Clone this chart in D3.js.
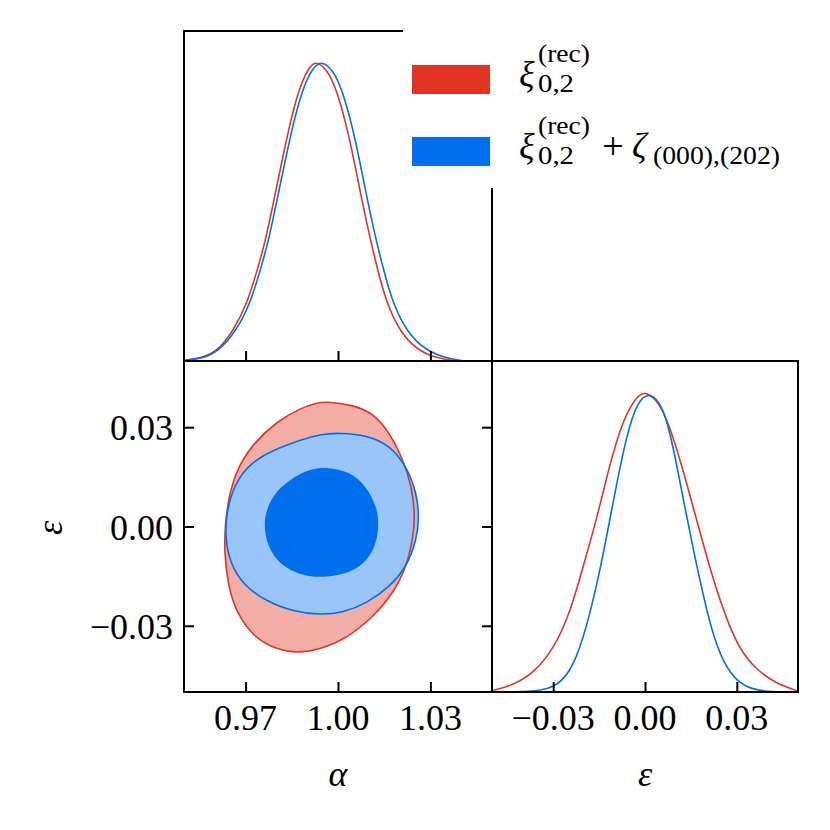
<!DOCTYPE html>
<html><head><meta charset="utf-8">
<script src="https://cdn.jsdelivr.net/npm/d3@7"></script>
<style>
html,body{margin:0;padding:0;background:#fff;}
text{font-family:"Liberation Serif","DejaVu Serif",serif;fill:#000;}
</style></head>
<body><svg id="c" width="830" height="830"></svg>
<script>
// ---------- data ----------
const alphaTicks = [0.97, 1.00, 1.03];
const epsTicks = [-0.03, 0.00, 0.03];
const alphaDomain = [0.95, 1.05];
const epsDomain = [-0.05, 0.05];
const seriesNames = ["rec", "rec+zeta"];

// 1D marginal of alpha (normalised to peak 1)
const alphaRed = [[0.9500,0.002],[0.9554,0.009],[0.9608,0.031],[0.9662,0.103],[0.9705,0.192],[0.9738,0.303],[0.9765,0.403],[0.9792,0.537],[0.9819,0.670],[0.9846,0.803],[0.9879,0.926],[0.9911,0.987],[0.9933,1.000],[0.9974,0.959],[1.0006,0.870],[1.0039,0.737],[1.0071,0.570],[1.0098,0.437],[1.0126,0.314],[1.0158,0.192],[1.0201,0.098],[1.0256,0.037],[1.0320,0.009],[1.0385,0.000]];
const alphaBlue = [[0.9500,0.002],[0.9554,0.008],[0.9608,0.028],[0.9670,0.100],[0.9715,0.192],[0.9748,0.303],[0.9775,0.403],[0.9802,0.537],[0.9829,0.670],[0.9857,0.803],[0.9891,0.926],[0.9925,0.987],[0.9952,1.000],[0.9992,0.959],[1.0024,0.870],[1.0057,0.737],[1.0089,0.570],[1.0116,0.437],[1.0145,0.314],[1.0178,0.192],[1.0223,0.098],[1.0282,0.037],[1.0350,0.009],[1.0410,0.000]];

// 1D marginal of epsilon
const epsRed = [[-0.0500,0.004],[-0.0430,0.023],[-0.0365,0.062],[-0.0300,0.140],[-0.0245,0.262],[-0.0202,0.418],[-0.0158,0.573],[-0.0114,0.762],[-0.0071,0.907],[-0.0027,0.984],[0.0002,1.000],[0.0049,0.962],[0.0092,0.851],[0.0136,0.696],[0.0180,0.529],[0.0223,0.373],[0.0267,0.240],[0.0310,0.140],[0.0365,0.073],[0.0430,0.027],[0.0500,0.003]];
const epsBlue = [[-0.0500,0.000],[-0.0430,0.000],[-0.0360,0.003],[-0.0300,0.012],[-0.0245,0.062],[-0.0202,0.173],[-0.0158,0.351],[-0.0125,0.518],[-0.0092,0.696],[-0.0060,0.851],[-0.0027,0.962],[0.0016,1.000],[0.0060,0.948],[0.0092,0.818],[0.0125,0.640],[0.0158,0.473],[0.0191,0.318],[0.0223,0.184],[0.0267,0.073],[0.0321,0.018],[0.0387,0.000],[0.0500,0.000]];

// 2D contours [alpha, epsilon]
const redOuter = [[0.99685,0.0377],[1.00497,0.0367],[1.01146,0.0342],[1.01688,0.0282],[1.02120,0.0201],[1.02393,0.0120],[1.02500,0.0040],[1.02445,-0.0031],[1.02231,-0.0121],[1.01795,-0.0202],[1.01146,-0.0273],[1.00282,-0.0338],[0.99523,-0.0368],[0.98766,-0.0383],[0.98010,-0.0373],[0.97250,-0.0333],[0.96711,-0.0262],[0.96438,-0.0182],[0.96308,-0.0081],[0.96331,0.0010],[0.96494,0.0110],[0.96763,0.0181],[0.97250,0.0251],[0.98010,0.0317],[0.98766,0.0357],[0.99308,0.0374]];
const blueOuter = [[1.00065,0.0283],[1.00932,0.0276],[1.01688,0.0246],[1.02231,0.0181],[1.02555,0.0100],[1.02640,0.0030],[1.02555,-0.0041],[1.02231,-0.0121],[1.01688,-0.0182],[1.00932,-0.0232],[1.00172,-0.0260],[0.99416,-0.0267],[0.98549,-0.0257],[0.97685,-0.0227],[0.96925,-0.0177],[0.96494,-0.0111],[0.96331,-0.0031],[0.96386,0.0050],[0.96656,0.0131],[0.97143,0.0191],[0.97899,0.0231],[0.98766,0.0261],[0.99416,0.0279]];
const blueInner = [[0.99633,0.0179],[1.00390,0.0166],[1.00932,0.0120],[1.01256,0.0060],[1.01331,0.0010],[1.01256,-0.0051],[1.00932,-0.0106],[1.00390,-0.0141],[0.99523,-0.0156],[0.98766,-0.0147],[0.98117,-0.0116],[0.97705,-0.0061],[0.97575,0.0010],[0.97737,0.0070],[0.98117,0.0120],[0.98766,0.0161],[0.99198,0.0175]];

// ---------- layout ----------
const RED = "#E03424", BLUE = "#006FED";
const RED_L = "#F2ADA7", BLUE_L = "#99C5F8";
const L = 184, M = 492, R = 798, T = 31, MID = 361, B = 692;
const FS = 36, TICK = 10;

const svg = d3.select("#c");
const xA = d3.scaleLinear().domain(alphaDomain).range([L, M]);
const xE = d3.scaleLinear().domain(epsDomain).range([M, R]);
const yE = d3.scaleLinear().domain(epsDomain).range([B, MID]);
const yTop = d3.scaleLinear().domain([0, 1.1]).range([MID, T]);
const yBR = d3.scaleLinear().domain([0, 1.1]).range([B, MID]);
const fmt = v => d3.format(".2f")(v).replace("-", "\u2212");

const defs = svg.append("defs");
defs.append("clipPath").attr("id","cTop").append("rect").attr("x",L).attr("y",T).attr("width",M-L).attr("height",MID-T);
defs.append("clipPath").attr("id","c2d").append("rect").attr("x",L).attr("y",MID).attr("width",M-L).attr("height",B-MID);
defs.append("clipPath").attr("id","cBR").append("rect").attr("x",M).attr("y",MID).attr("width",R-M).attr("height",B-MID);

// 2D panel: fills first, then outlines on top
const g2 = svg.append("g").attr("clip-path","url(#c2d)");
const cl = d3.line().x(d=>xA(d[0])).y(d=>yE(d[1])).curve(d3.curveBasisClosed);
g2.append("path").attr("d", cl(redOuter)).attr("fill", RED_L);
g2.append("path").attr("d", cl(blueOuter)).attr("fill", BLUE_L);
g2.append("path").attr("d", cl(blueInner)).attr("fill", BLUE);
g2.append("path").attr("d", cl(redOuter)).attr("fill", "none").attr("stroke", RED).attr("stroke-width", 1.6);
g2.append("path").attr("d", cl(blueOuter)).attr("fill", "none").attr("stroke", BLUE).attr("stroke-width", 1.6);

// 1D alpha
const gT = svg.append("g").attr("clip-path","url(#cTop)");
const lA = d3.line().x(d=>xA(d[0])).y(d=>yTop(d[1])).curve(d3.curveBasis);
gT.append("path").attr("d", lA(alphaRed)).attr("fill","none").attr("stroke",RED).attr("stroke-width",1.6);
gT.append("path").attr("d", lA(alphaBlue)).attr("fill","none").attr("stroke",BLUE).attr("stroke-width",1.6);

// 1D eps
const gB = svg.append("g").attr("clip-path","url(#cBR)");
const lE = d3.line().x(d=>xE(d[0])).y(d=>yBR(d[1])).curve(d3.curveBasis);
gB.append("path").attr("d", lE(epsRed)).attr("fill","none").attr("stroke",RED).attr("stroke-width",1.6);
gB.append("path").attr("d", lE(epsBlue)).attr("fill","none").attr("stroke",BLUE).attr("stroke-width",1.6);

// axes with inward ticks
function styleAxis(g){ g.select(".domain").remove(); g.selectAll(".tick line").attr("stroke","#000").attr("stroke-width",2); g.selectAll(".tick text").remove(); }
svg.append("g").attr("transform",`translate(0,${MID})`).call(d3.axisTop(xA).tickValues(alphaTicks).tickSize(TICK)).call(styleAxis);
svg.append("g").attr("transform",`translate(0,${B})`).call(d3.axisTop(xA).tickValues(alphaTicks).tickSize(TICK)).call(styleAxis);
svg.append("g").attr("transform",`translate(${L},0)`).call(d3.axisRight(yE).tickValues(epsTicks).tickSize(TICK)).call(styleAxis);
svg.append("g").attr("transform",`translate(${M},0)`).call(d3.axisLeft(yE).tickValues(epsTicks).tickSize(TICK)).call(styleAxis);
svg.append("g").attr("transform",`translate(0,${B})`).call(d3.axisTop(xE).tickValues(epsTicks).tickSize(TICK)).call(styleAxis);

// frames
const fr = svg.append("g").attr("stroke","#000").attr("stroke-width",2).attr("fill","none");
fr.append("rect").attr("x",L).attr("y",MID).attr("width",M-L).attr("height",B-MID);
fr.append("rect").attr("x",M).attr("y",MID).attr("width",R-M).attr("height",B-MID);
fr.append("path").attr("d",`M${M},${MID}V${T}H${L}V${MID}H${M}`);

// tick labels
const tl = svg.append("g").attr("font-size",FS);
alphaTicks.forEach(v=>tl.append("text").attr("x",xA(v)).attr("y",730).attr("text-anchor","middle").text(fmt(v)));
epsTicks.forEach(v=>tl.append("text").attr("x",xE(v)).attr("y",730).attr("text-anchor","middle").text(fmt(v)));
epsTicks.forEach(v=>tl.append("text").attr("x",173).attr("y",yE(v)+13).attr("text-anchor","end").text(fmt(v)));

// axis labels
svg.append("text").attr("x",(L+M)/2).attr("y",786).attr("text-anchor","middle").attr("font-size",FS).attr("font-style","italic").text("\u03B1");
svg.append("text").attr("x",(M+R)/2).attr("y",786).attr("text-anchor","middle").attr("font-size",FS).attr("font-style","italic").text("\u03B5");
svg.append("text").attr("transform",`translate(62,528) rotate(-90)`).attr("text-anchor","middle").attr("font-size",FS).attr("font-style","italic").text("\u03B5");

// legend
const lg = svg.append("g");
lg.append("rect").attr("x",403).attr("y",20).attr("width",400).attr("height",168).attr("fill","#fff");
const legColors = [RED, BLUE];
seriesNames.forEach((n,i)=>{
  const dy = i*72;
  lg.append("rect").attr("x",412).attr("y",65+dy).attr("width",78).attr("height",29).attr("fill",legColors[i]);
  lg.append("text").attr("x",519).attr("y",86+dy).attr("font-size",FS).attr("font-style","italic").text("\u03BE");
  lg.append("text").attr("x",538).attr("y",62+dy).attr("font-size",25).attr("textLength",52).attr("lengthAdjust","spacingAndGlyphs").text("(rec)");
  lg.append("text").attr("x",538).attr("y",92+dy).attr("font-size",25).attr("textLength",36).attr("lengthAdjust","spacingAndGlyphs").text("0,2");
  if (i===1){
    lg.append("text").attr("x",613).attr("y",87+dy).attr("text-anchor","middle").attr("font-size",38).text("+");
    lg.append("text").attr("x",632).attr("y",86+dy).attr("font-size",FS).attr("font-style","italic").text("\u03B6");
    lg.append("text").attr("x",653).attr("y",92+dy).attr("font-size",25).attr("textLength",127).attr("lengthAdjust","spacingAndGlyphs").text("(000),(202)");
  }
});
</script></body></html>
